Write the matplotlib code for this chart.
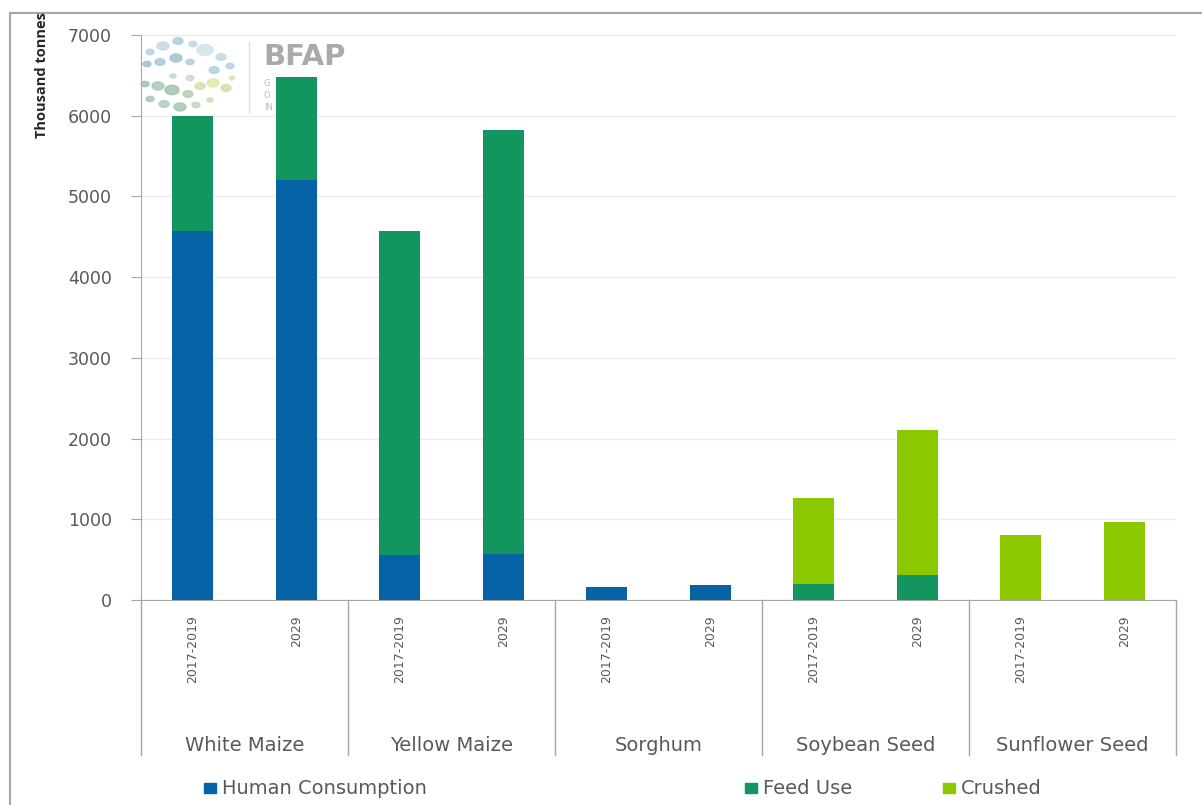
import matplotlib.pyplot as plt
from matplotlib.patches import Rectangle, Circle
from matplotlib.lines import Line2D

crops = ["White Maize", "Yellow Maize", "Sorghum", "Soybean Seed", "Sunflower Seed"]
periods = ["2017-2019", "2029"]

# thousand tonnes, one value per bar (crop x period)
human = [4570, 5200, 560, 570, 160, 185, 0, 0, 0, 0]
feed = [1430, 1280, 4010, 5250, 0, 0, 200, 310, 0, 0]
crushed = [0, 0, 0, 0, 0, 0, 1065, 1790, 805, 965]

colors = {
    "Human Consumption": "#0563a6",
    "Feed Use": "#12955f",
    "Crushed": "#8cc800",
}

plt.rcParams["font.family"] = ["DejaVu Sans"]
grey = "#595959"
W, H = 1202, 805


def fx(px):
    return px / W


def fy(py):
    return 1 - py / H


fig = plt.figure(figsize=(12.02, 8.05), dpi=100)
ax = fig.add_axes([fx(141), fy(600), fx(1176) - fx(141), fy(35) - fy(600)])

# logo sits behind the bars
dots = [(150, 52, 4, "#b9d3df"), (163, 46, 6, "#c3dae4"), (178, 41, 5, "#aecbd9"),
        (193, 44, 4, "#bcd5e0"), (205, 50, 8, "#cfe2ea"), (221, 57, 5, "#c2d9e3"),
        (230, 66, 4, "#b8d2de"), (147, 64, 4, "#9dbfcf"), (160, 62, 5, "#a8c7d6"),
        (176, 58, 6, "#9fc1d1"), (190, 62, 4, "#b1cedb"), (214, 70, 5, "#b5d0dc"),
        (145, 84, 4, "#9fc1b3"), (158, 86, 6, "#a9c8b6"), (172, 90, 7, "#a2c4ad"),
        (188, 94, 5, "#b5d0a8"), (200, 86, 5, "#d3e3a0"), (213, 83, 6, "#dfe9a6"),
        (226, 88, 5, "#cde0a8"), (232, 78, 3, "#d8e6b0"), (150, 99, 4, "#a6c5b7"),
        (164, 104, 5, "#afcbbf"), (180, 107, 6, "#a7c7b5"), (196, 105, 4, "#bfd7bd"),
        (210, 100, 3, "#c9ddb5"), (173, 76, 3, "#c0d7d6"), (190, 78, 4, "#c9dccf")]
for x, y, r, c in dots:
    fig.patches.append(Circle((fx(x), fy(y)), r / W, transform=fig.transFigure,
                              color=c, alpha=0.85, zorder=0))
fig.add_artist(Line2D([fx(249), fx(249)], [fy(42), fy(112)], color="#dedede",
                      linewidth=1, zorder=0))
fig.text(fx(263), fy(57), "BFAP", fontsize=21, fontweight="bold", color="#aaaaaa",
         va="center", ha="left", zorder=0)
for py, s in [(83, "G"), (95, "O"), (107, "IN")]:
    fig.text(fx(264), fy(py), s, fontsize=6, color="#bdbdbd", va="center",
             ha="left", zorder=0)
ax.patch.set_alpha(0)

xs = [i + 0.5 for i in range(len(human))]
bottom2 = [h + f for h, f in zip(human, feed)]
ax.bar(xs, human, width=0.4, color=colors["Human Consumption"], zorder=3)
ax.bar(xs, feed, width=0.4, bottom=human, color=colors["Feed Use"], zorder=3)
ax.bar(xs, crushed, width=0.4, bottom=bottom2, color=colors["Crushed"], zorder=3)

ax.set_xlim(0, 10)
ax.set_ylim(0, 7000)
ax.set_yticks(range(0, 7001, 1000))
ax.tick_params(axis="y", labelsize=12.5, colors=grey, length=7, pad=14,
               color="#a6a6a6")
ax.yaxis.grid(True, color="#ececec", linewidth=1, zorder=0)

ax.set_xticks(xs)
ax.set_xticklabels(periods * len(crops), rotation=90, fontsize=9, color=grey)
ax.tick_params(axis="x", length=0, pad=11)

for side in ["top", "right"]:
    ax.spines[side].set_visible(False)
ax.spines["left"].set_color("#a6a6a6")
ax.spines["bottom"].set_color("#a6a6a6")

# group separators and crop names under the period labels
tr = ax.get_xaxis_transform()
for g in range(len(crops) + 1):
    ax.plot([2 * g, 2 * g], [0, -0.274], transform=tr, color="#a6a6a6",
            linewidth=1, clip_on=False)
for g, name in enumerate(crops):
    ax.text(2 * g + 1, -0.257, name, transform=tr, ha="center", va="center",
            fontsize=14, color=grey)

fig.text(fx(42), fy(75), "Thousand tonnes", rotation=90, fontsize=10.5,
         fontweight="bold", color="#262626", va="center", ha="center",
         family="Open Sans")

# legend entries
legend_pos = [(204, "Human Consumption"), (745, "Feed Use"), (943, "Crushed")]
for px, label in legend_pos:
    fig.patches.append(Rectangle((fx(px), fy(793)), 12 / W, 10 / H,
                                 transform=fig.transFigure, color=colors[label]))
    fig.text(fx(px + 18), fy(788), label, fontsize=14, color=grey,
             va="center", ha="left")

# outer frame (top and left edges fall inside the image)
fig.add_artist(Line2D([fx(10), 1.0], [fy(13), fy(13)], color="#a6a6a6",
                      linewidth=1.5))
fig.add_artist(Line2D([fx(10), fx(10)], [fy(13), 0.0], color="#a6a6a6",
                      linewidth=1.5))

fig.savefig("out.png", dpi=100)
plt.close(fig)
